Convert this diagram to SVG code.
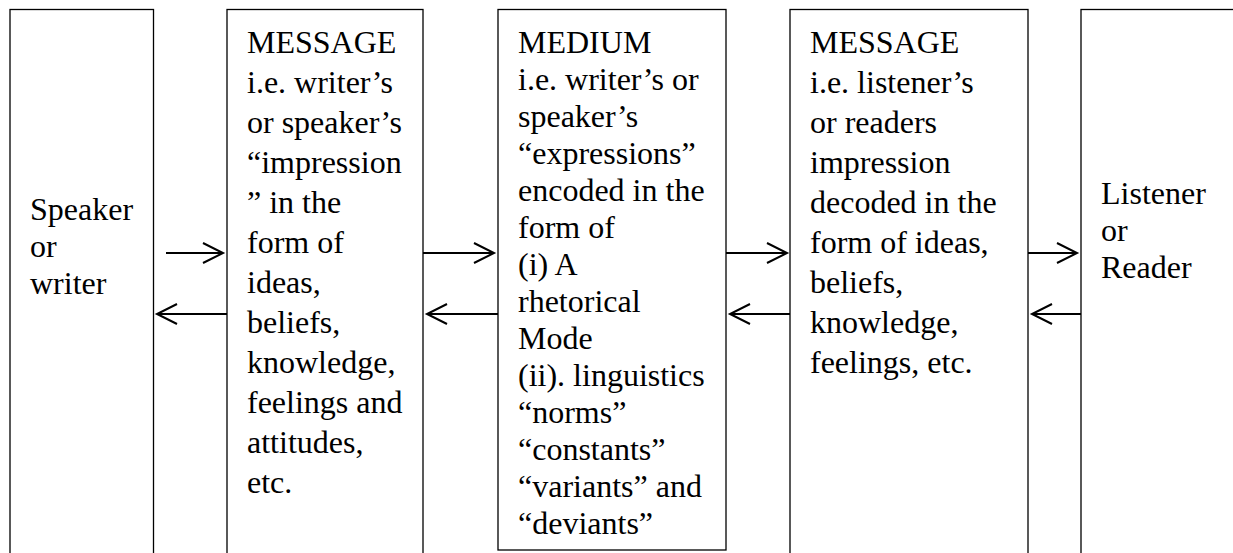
<svg xmlns="http://www.w3.org/2000/svg" width="1233" height="553" viewBox="0 0 1233 553">
  <defs>
    <style>
      .box { fill: #fff; stroke: #000; stroke-width: 1.3; }
      .txt { font-family: "Liberation Serif", "Times New Roman", serif; font-size: 32px; fill: #000; }
      .conn { stroke: #000; stroke-width: 2; fill: none; }
    </style>
    <marker id="head" markerUnits="userSpaceOnUse" markerWidth="24" markerHeight="24" viewBox="0 0 24 24" refX="21" refY="12" orient="auto">
      <path d="M1,2 L21,12 L1,22" fill="none" stroke="#000" stroke-width="2"/>
    </marker>
  </defs>
  <rect width="1233" height="553" fill="#fff"/>

  <g id="node-speaker">
    <rect class="box" x="10" y="9.5" width="143.5" height="560"/>
    <text class="txt"><tspan x="30" y="220">Speaker</tspan><tspan x="30" y="257">or</tspan><tspan x="30" y="294">writer</tspan></text>
  </g>

  <g id="node-message1">
    <rect class="box" x="227" y="9.5" width="196" height="560"/>
    <text class="txt">
      <tspan x="247" y="53">MESSAGE</tspan>
      <tspan x="247" y="93">i.e. writer’s</tspan>
      <tspan x="247" y="133">or speaker’s</tspan>
      <tspan x="247" y="173">“impression</tspan>
      <tspan x="247" y="213">” in the</tspan>
      <tspan x="247" y="253">form of</tspan>
      <tspan x="247" y="293">ideas,</tspan>
      <tspan x="247" y="333">beliefs,</tspan>
      <tspan x="247" y="373">knowledge,</tspan>
      <tspan x="247" y="413">feelings and</tspan>
      <tspan x="247" y="453">attitudes,</tspan>
      <tspan x="247" y="493">etc.</tspan>
    </text>
  </g>

  <g id="node-medium">
    <rect class="box" x="498" y="9.5" width="228" height="540.5"/>
    <text class="txt">
      <tspan x="518" y="53">MEDIUM</tspan>
      <tspan x="518" y="90">i.e. writer’s or</tspan>
      <tspan x="518" y="127">speaker’s</tspan>
      <tspan x="518" y="164">“expressions”</tspan>
      <tspan x="518" y="201">encoded in the</tspan>
      <tspan x="518" y="238">form of</tspan>
      <tspan x="518" y="275">(i) A</tspan>
      <tspan x="518" y="312">rhetorical</tspan>
      <tspan x="518" y="349">Mode</tspan>
      <tspan x="518" y="386">(ii). linguistics</tspan>
      <tspan x="518" y="423">“norms”</tspan>
      <tspan x="518" y="460">“constants”</tspan>
      <tspan x="518" y="497">“variants” and</tspan>
      <tspan x="518" y="534">“deviants”</tspan>
    </text>
  </g>

  <g id="node-message2">
    <rect class="box" x="790" y="9.5" width="238" height="560"/>
    <text class="txt">
      <tspan x="810" y="53">MESSAGE</tspan>
      <tspan x="810" y="93">i.e. listener’s</tspan>
      <tspan x="810" y="133">or readers</tspan>
      <tspan x="810" y="173">impression</tspan>
      <tspan x="810" y="213">decoded in the</tspan>
      <tspan x="810" y="253">form of ideas,</tspan>
      <tspan x="810" y="293">beliefs,</tspan>
      <tspan x="810" y="333">knowledge,</tspan>
      <tspan x="810" y="373">feelings, etc.</tspan>
    </text>
  </g>

  <g id="node-listener">
    <rect class="box" x="1081" y="9.5" width="170" height="560"/>
    <text class="txt"><tspan x="1101" y="204">Listener</tspan><tspan x="1101" y="241">or</tspan><tspan x="1101" y="278">Reader</tspan></text>
  </g>

  <g id="connectors">
    <line class="conn" x1="166" y1="253" x2="223" y2="253" marker-end="url(#head)"/>
    <line class="conn" x1="227" y1="314" x2="157" y2="314" marker-end="url(#head)"/>
    <line class="conn" x1="423" y1="253" x2="494" y2="253" marker-end="url(#head)"/>
    <line class="conn" x1="498" y1="314" x2="427" y2="314" marker-end="url(#head)"/>
    <line class="conn" x1="726" y1="253" x2="787" y2="253" marker-end="url(#head)"/>
    <line class="conn" x1="790" y1="314" x2="730" y2="314" marker-end="url(#head)"/>
    <line class="conn" x1="1028" y1="253" x2="1077" y2="253" marker-end="url(#head)"/>
    <line class="conn" x1="1081" y1="314" x2="1032" y2="314" marker-end="url(#head)"/>
  </g>
</svg>
